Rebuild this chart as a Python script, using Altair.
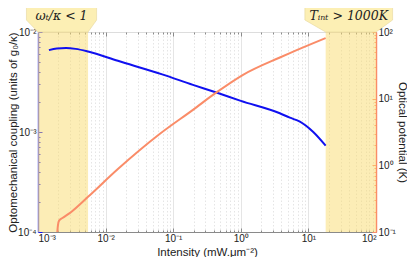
import altair as alt
import pandas as pd

# ---------------- data ----------------
blue_intensity = [1.45e-3, 1.9e-3, 2.6e-3, 3.6e-3, 5.5e-3, 0.0152, 0.0687, 0.196, 0.436, 1.0, 3.78, 5.32, 7.48, 11.8, 18.0]
blue_coupling = [6.59e-3, 6.85e-3, 6.92e-3, 6.78e-3, 6.38e-3, 5.15e-3, 3.77e-3, 2.96e-3, 2.48e-3, 2.05e-3, 1.54e-3, 1.39e-3, 1.27e-3, 1.0e-3, 7.3e-4]

orange_intensity = [1.93e-3, 1.97e-3, 2.05e-3, 2.3e-3, 3.1e-3, 5.5e-3, 0.0152, 0.063, 0.196, 0.436, 1.08, 3.78, 5.32, 18.0]
orange_potential = [0.1, 0.125, 0.148, 0.162, 0.20, 0.337, 0.88, 2.95, 6.8, 12.4, 22.8, 41.5, 48.3, 81.0]

shade_start = [1e-3, 18.0]
shade_end = [5.5e-3, 100.0]
tab_labels = ["ωₜ/κ < 1", "Tᵢₙₜ > 1000K"]
tab_outer_start = [6.75e-4, 8.87]
tab_outer_end = [7.36e-3, 176.0]

x_exps = [-3, -2, -1, 0, 1, 2]
yl_exps = [-4, -3, -2]
yr_exps = [-1, 0, 1, 2]

# ---------------- helpers ----------------
W, H = 338, 200
BLUE = "#1010f0"
ORANGE = "#fa8c68"
GRAY = "#8a8a8a"
SUP = {"-": "⁻", "0": "⁰", "1": "¹", "2": "²", "3": "³", "4": "⁴"}
LOGV = "log(datum.value)/LN10"
MAJOR = f"abs({LOGV} - round({LOGV})) < 0.001"


def ticks_for(exps):
    vals = [m * 10.0 ** e for e in exps[:-1] for m in range(1, 10)]
    return vals + [10.0 ** exps[-1]]


def label_expr(exps):
    expr = "''"
    for e in exps:
        s = "10" + "".join(SUP[c] for c in str(e))
        expr = f"abs({LOGV} - ({e})) < 0.001 ? '{s}' : " + expr
    return expr


TICK_SIZE = {"condition": {"test": MAJOR, "value": -4}, "value": -2}
xscale = alt.Scale(type="log", domain=[1e-3, 100])

common_axis = dict(
    labelFont="Liberation Sans", labelFontSize=10, labelColor="#222",
    titleFont="Liberation Sans", titleFontSize=11.5, titleFontWeight="normal",
    titleColor="#222", tickSize=TICK_SIZE,
)

# ---------------- layers ----------------
shade_df = pd.DataFrame({"x0": shade_start, "x1": shade_end})
shade = alt.Chart(shade_df).mark_rect(color="#f9dc6e", opacity=0.5).encode(
    x=alt.X("x0:Q", scale=xscale, axis=alt.Axis(
        orient="top", values=ticks_for(x_exps), labels=False, title=None,
        domain=False, tickColor=GRAY, tickSize=TICK_SIZE, grid=False)),
    x2="x1:Q",
    y=alt.value(0),
    y2=alt.value(H),
)

tab_rows = []
for lab, o0, o1, i0, i1 in zip(tab_labels, tab_outer_start, tab_outer_end, shade_start, shade_end):
    tab_rows += [
        {"tab": lab, "py": -27, "x0": o0, "x1": o1},
        {"tab": lab, "py": -12, "x0": o0, "x1": o1},
        {"tab": lab, "py": 0, "x0": i0, "x1": i1},
    ]
tabs = alt.Chart(pd.DataFrame(tab_rows)).mark_area(
    orient="horizontal", color="#fcefb4", stroke="#e6d79c", strokeWidth=0.6, clip=False
).encode(
    y=alt.Y("py:Q", scale=None, axis=None),
    x=alt.X("x0:Q", scale=xscale, axis=None),
    x2="x1:Q",
    detail="tab:N",
)

text_df = pd.DataFrame({
    "label": tab_labels,
    "xc": [(a * b) ** 0.5 for a, b in zip(tab_outer_start, tab_outer_end)],
})
texts = alt.Chart(text_df).mark_text(
    font="DejaVu Serif", fontStyle="italic", fontSize=12.5, color="#222", baseline="middle"
).encode(
    x=alt.X("xc:Q", scale=xscale, axis=None),
    y=alt.value(-16),
    text="label:N",
)

blue_df = pd.DataFrame({"x": blue_intensity, "y": blue_coupling})
blue = alt.Chart(blue_df).mark_line(color=BLUE, strokeWidth=2, interpolate="monotone").encode(
    x=alt.X("x:Q", scale=xscale, axis=alt.Axis(
        orient="bottom", values=ticks_for(x_exps), labelExpr=label_expr(x_exps),
        title="Intensity (mW.μm⁻²)", domainColor=GRAY, tickColor=GRAY,
        titleX=W / 2, titleY=20, titleBaseline="middle", labelPadding=5,
        grid=True, gridColor="#dedede", gridWidth=0.8,
        gridDash={"condition": {"test": MAJOR, "value": []}, "value": [1.5, 2]},
        **common_axis)),
    y=alt.Y("y:Q", scale=alt.Scale(type="log", domain=[1e-4, 1e-2]), axis=alt.Axis(
        orient="left", values=ticks_for(yl_exps), labelExpr=label_expr(yl_exps),
        title="Optomechanical coupling (units of g₀/κ)", labelPadding=6,
        titleX=-25, titleY=H / 2, titleBaseline="middle", titleAngle=270,
        domainColor="#5a5af0", domainWidth=1.5, tickColor=BLUE, grid=False,
        **common_axis)),
)

orange_df = pd.DataFrame({"x": orange_intensity, "y": orange_potential})
orange = alt.Chart(orange_df).mark_line(color=ORANGE, strokeWidth=2, interpolate="monotone").encode(
    x=alt.X("x:Q", scale=xscale, axis=None),
    y=alt.Y("y:Q", scale=alt.Scale(type="log", domain=[0.1, 100]), axis=alt.Axis(
        orient="right", values=ticks_for(yr_exps), labelExpr=label_expr(yr_exps),
        title="Optical potential (K)", titleAngle=90, labelPadding=6,
        titleX=25, titleY=H / 2, titleBaseline="middle",
        domainColor=ORANGE, domainWidth=1.5, tickColor=ORANGE, grid=False,
        **common_axis)),
)

chart = alt.layer(shade, tabs, texts, blue, orange).resolve_scale(
    y="independent"
).resolve_axis(x="independent").properties(
    width=W, height=H,
    autosize=alt.AutoSizeParams(type="none"),
    padding={"left": 30, "top": 24, "right": 31, "bottom": 25},
).configure_view(stroke=GRAY, strokeWidth=1).configure(background="white")

chart.save("out.html", embed_options={"renderer": "svg", "actions": False})
